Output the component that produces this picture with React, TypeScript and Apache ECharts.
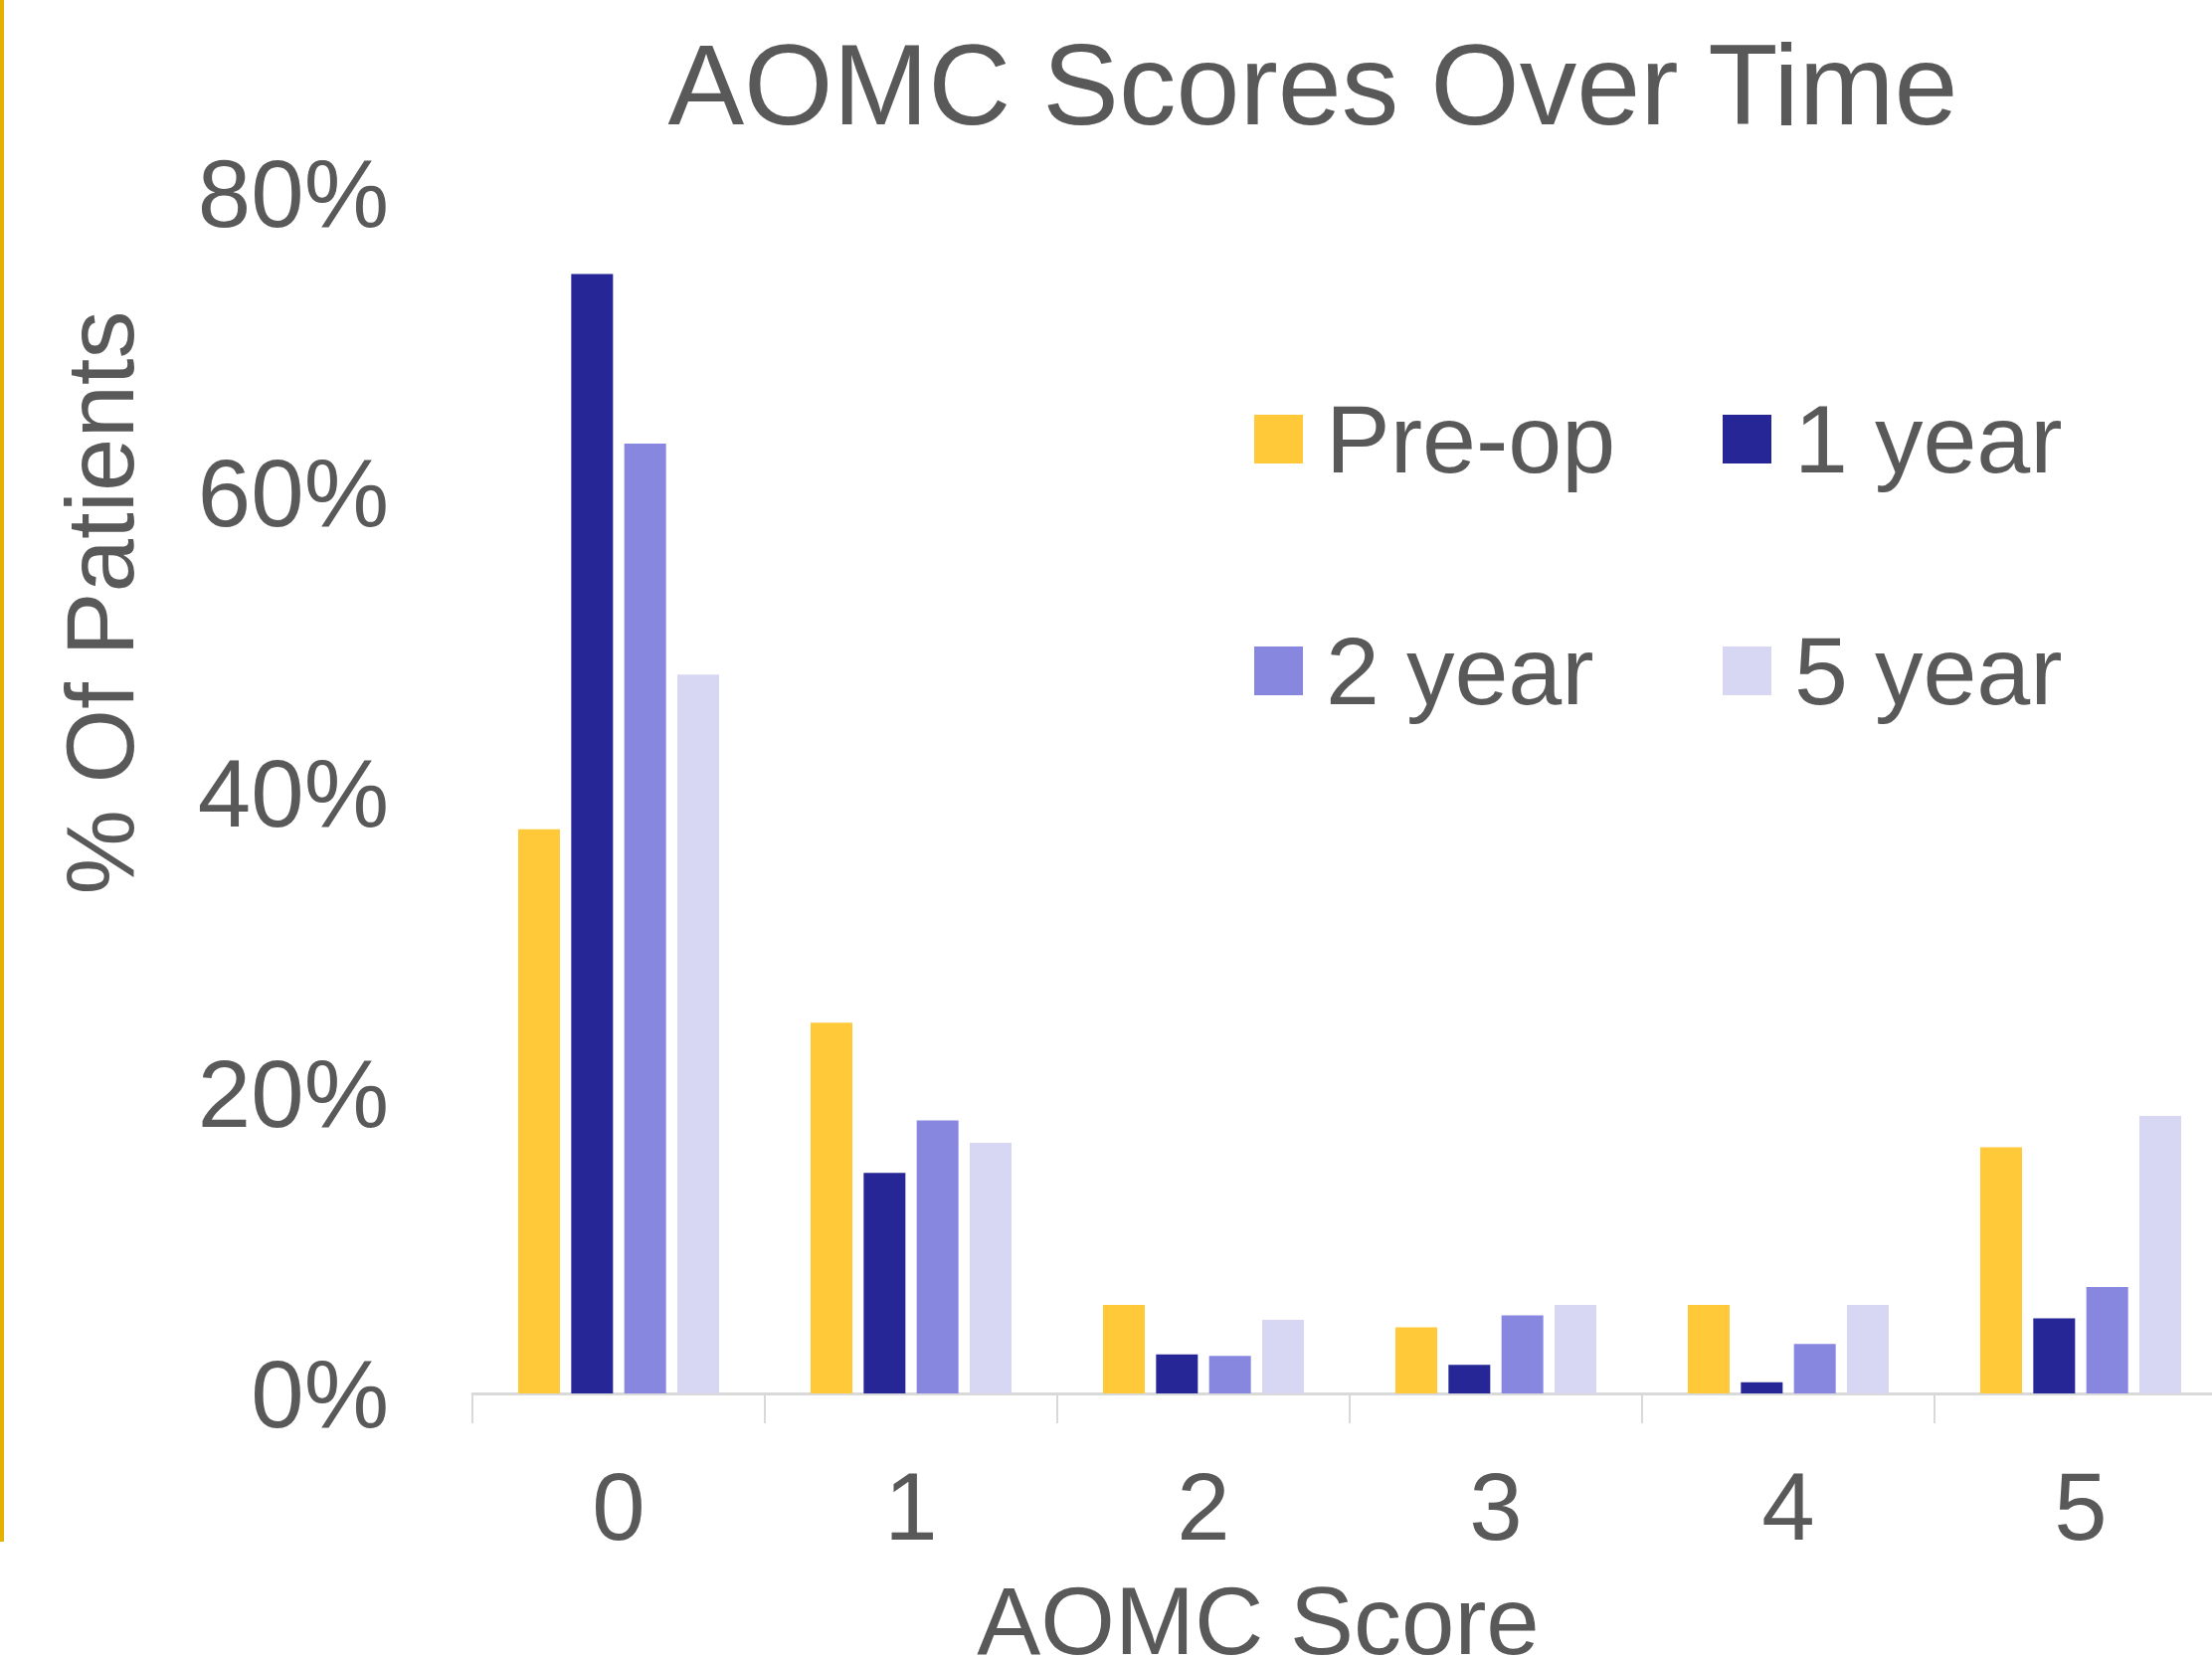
import React, { useEffect, useRef } from "react";
import * as echarts from "echarts";

const categories = ["0", "1", "2", "3", "4", "5"];
const seriesNames = ["Pre-op", "1 year", "2 year", "5 year"];
const preOp = [37.6, 24.7, 5.9, 4.4, 5.9, 16.4];
const oneYear = [74.6, 14.7, 2.6, 1.9, 0.75, 5.0];
const twoYear = [63.3, 18.2, 2.5, 5.2, 3.3, 7.1];
const fiveYear = [47.9, 16.7, 4.9, 5.9, 5.9, 18.5];
const colors = ["#FFC93A", "#262696", "#8787E0", "#D7D7F3"];
const yTicks = { min: 0, max: 80, interval: 20 };

const FONT = "'Liberation Sans', Arial, sans-serif";
const TEXT = "#595959";

export default function App() {
  const ref = useRef<HTMLDivElement>(null);
  useEffect(() => {
    if (!ref.current) return;
    const chart = echarts.init(ref.current, null, { renderer: "svg" });
    const values = [preOp, oneYear, twoYear, fiveYear];
    const legendCommon = {
      orient: "vertical",
      top: 393,
      padding: 0,
      itemWidth: 49,
      itemHeight: 49,
      itemGap: 136,
      icon: "rect",
      textStyle: { fontSize: 97, color: TEXT, fontFamily: FONT, padding: [0, 0, 0, 18] },
    };
    chart.setOption({
      animation: false,
      backgroundColor: "#ffffff",
      textStyle: { fontFamily: FONT },
      grid: { left: 475, top: 194, width: 1764, height: 1207, containLabel: false, outerBoundsMode: "none" },
      legend: [
        { ...legendCommon, data: [seriesNames[0], seriesNames[2]], left: 1261 },
        { ...legendCommon, data: [seriesNames[1], seriesNames[3]], left: 1732 },
      ],
      xAxis: {
        type: "category",
        data: categories,
        axisLine: { show: true, lineStyle: { color: "#D9D9D9", width: 3 } },
        axisTick: { show: true, length: 30, lineStyle: { color: "#D9D9D9", width: 2 } },
        axisLabel: { fontSize: 96, color: TEXT, fontFamily: FONT, margin: 65, lineHeight: 96 },
        splitLine: { show: false },
      },
      yAxis: {
        type: "value",
        min: yTicks.min,
        max: yTicks.max,
        interval: yTicks.interval,
        axisLine: { show: false },
        axisTick: { show: false },
        splitLine: { show: false },
        axisLabel: { fontSize: 96, color: TEXT, fontFamily: FONT, margin: 84, formatter: "{value}%" },
      },
      series: seriesNames.map((name, i) => ({
        name,
        type: "bar",
        data: values[i],
        barWidth: 42,
        barGap: "27%",
        itemStyle: { color: colors[i] },
      })),
      graphic: [
        { type: "rect", shape: { x: 0, y: 0, width: 4, height: 1550 }, style: { fill: "#E5B000" } },
        {
          type: "text",
          x: 1320,
          y: 85,
          style: { text: "AOMC Scores Over Time", fontSize: 115, fontFamily: FONT, fill: TEXT, align: "center", verticalAlign: "middle" },
        },
        {
          type: "text",
          x: 100,
          y: 606,
          rotation: Math.PI / 2,
          style: { text: "% Of Patients", fontSize: 96, fontFamily: FONT, fill: TEXT, align: "center", verticalAlign: "middle" },
        },
        {
          type: "text",
          x: 1265,
          y: 1629,
          style: { text: "AOMC Score", fontSize: 96, fontFamily: FONT, fill: TEXT, align: "center", verticalAlign: "middle" },
        },
      ],
    });
    return () => chart.dispose();
  }, []);
  return <div ref={ref} style={{ position: "absolute", left: 0, top: 0, width: 2224, height: 1668 }} />;
}
